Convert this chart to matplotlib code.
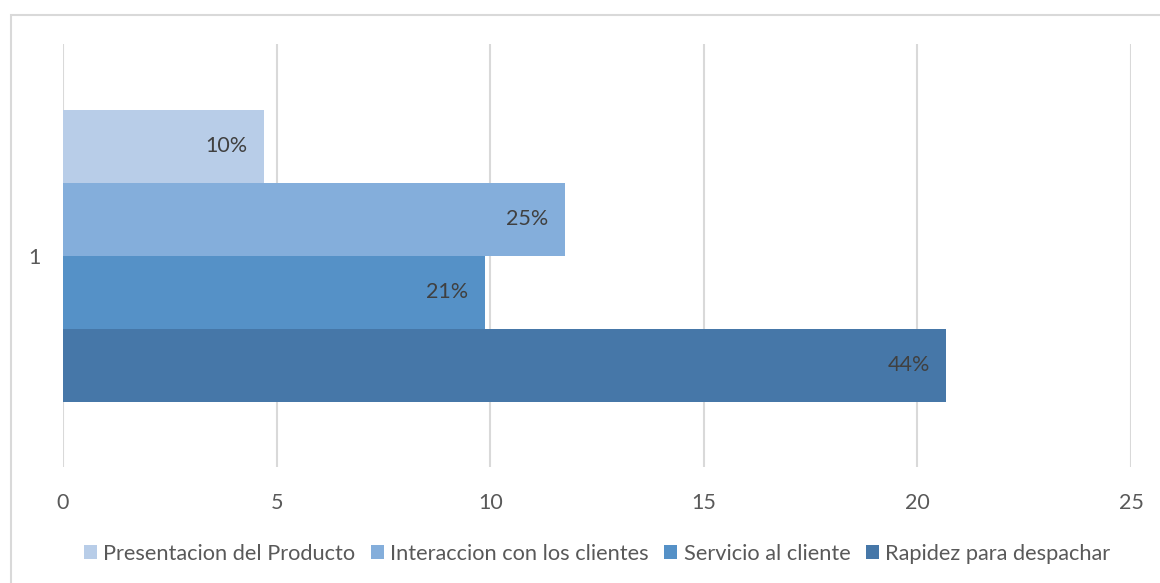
import matplotlib.pyplot as plt
from matplotlib.patches import Rectangle

plt.rcParams['font.family'] = ['Lato', 'DejaVu Sans']

categories = ['Presentacion del Producto', 'Interaccion con los clientes',
              'Servicio al cliente', 'Rapidez para despachar']
values = [4.7, 11.75, 9.87, 20.68]
colors = ['#B8CDE8', '#84AEDB', '#5591C7', '#4677A8']
xticks = [0, 5, 10, 15, 20, 25]

W, H = 1160, 583
fig = plt.figure(figsize=(W / 100, H / 100), dpi=100)

# light frame around the chart area
fig.patches.append(Rectangle((11 / W, -0.01), 1.2, 1 - 15 / H + 0.01,
                             transform=fig.transFigure, fill=False,
                             edgecolor='#D9D9D9', linewidth=1.5))

ax = fig.add_axes([63 / W, 1 - 467 / H, (1131 - 63) / W, (467 - 44) / H])

total = sum(values)
bar_h = 73 / 423
offsets = [-1.5 * bar_h, -0.5 * bar_h, 0.5 * bar_h, 1.5 * bar_h]
for name, v, c, off in zip(categories, values, colors, offsets):
    ax.barh(off, v, height=bar_h, color=c, label=name, zorder=2)
    ax.text(v - 0.38, off, f'{v / total:.0%}', ha='right', va='center',
            fontsize=15.5, color='#404040', zorder=3)

ax.set_xlim(0, 25)
ax.set_ylim(0.5, -0.5)
ax.set_xticks(xticks)
ax.set_yticks([0])
ax.set_yticklabels(['1'])
ax.grid(axis='x', color='#D9D9D9', linewidth=1.5, zorder=0)
for s in ax.spines.values():
    s.set_visible(False)
ax.tick_params(length=0, labelsize=15.5, colors='#595959')
ax.tick_params(axis='x', pad=19)
ax.tick_params(axis='y', pad=16)

ax.legend(loc='upper center', bbox_to_anchor=(0.5, -0.135), ncol=4,
          frameon=False, fontsize=15.7, labelcolor='#595959',
          handlelength=0.6, handleheight=0.6, handletextpad=0.3,
          columnspacing=0.7)

fig.savefig('out.png', dpi=100)
